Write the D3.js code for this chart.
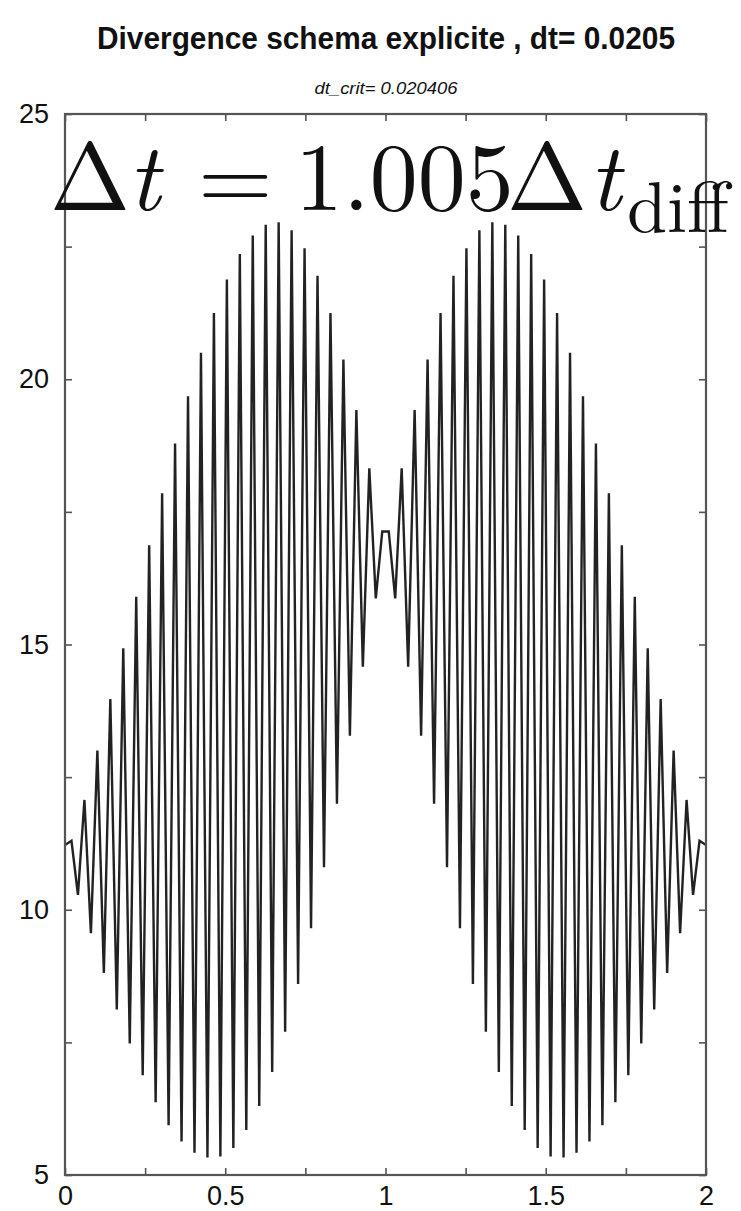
<!DOCTYPE html>
<html>
<head>
<meta charset="utf-8">
<script src="https://cdn.jsdelivr.net/npm/d3@7"></script>
<style>
body { margin: 0; background: #fff; }
text { fill: #111; }
</style>
</head>
<body>
<svg id="chart"></svg>
<script>
// tick values and labels
const xMajor = [0, 0.5, 1, 1.5, 2];
const xMajorLabels = ["0", "0.5", "1", "1.5", "2"];
const xMinor = [0, 0.25, 0.5, 0.75, 1, 1.25, 1.5, 1.75, 2];
const yMajor = [5, 10, 15, 20, 25];
const yMinor = [5, 7.5, 10, 12.5, 15, 17.5, 20, 22.5, 25];

// solution u(x) on 100 grid points
const u = [
  11.22, 11.30, 10.28, 12.07, 9.56, 13.00, 8.81, 13.97, 8.12, 14.93,
  7.48, 15.90, 6.88, 16.87, 6.37, 17.85, 5.94, 18.79, 5.63, 19.68,
  5.42, 20.50, 5.33, 21.25, 5.35, 21.88, 5.51, 22.36, 5.85, 22.71,
  6.30, 22.91, 6.94, 22.96, 7.70, 22.81, 8.60, 22.47, 9.65, 21.95,
  10.80, 21.25, 12.00, 20.37, 13.28, 19.42, 14.58, 18.32, 15.87, 17.13,
  17.13, 15.87, 18.32, 14.58, 19.42, 13.28, 20.37, 12.00, 21.25, 10.80,
  21.95, 9.65, 22.47, 8.60, 22.81, 7.70, 22.96, 6.94, 22.91, 6.30,
  22.71, 5.85, 22.36, 5.51, 21.88, 5.35, 21.25, 5.33, 20.50, 5.42,
  19.68, 5.63, 18.79, 5.94, 17.85, 6.37, 16.87, 6.88, 15.90, 7.48,
  14.93, 8.12, 13.97, 8.81, 13.00, 9.56, 12.07, 10.28, 11.30, 11.22
];
const xMin = 0, xMax = 2;

const W = 741, H = 1211;
const m = { left: 65, right: 706, top: 114, bottom: 1175 };

const svg = d3.select("#chart").attr("width", W).attr("height", H);

// soft edges like the scanned original
svg.append("defs").append("filter").attr("id", "soft")
  .append("feGaussianBlur").attr("stdDeviation", 0.6);

const x = d3.scaleLinear().domain([xMin, xMax]).range([m.left, m.right]);
const y = d3.scaleLinear().domain([5, 25]).range([m.bottom, m.top]);

const dx = (xMax - xMin) / (u.length - 1);
const pts = u.map((v, i) => [xMin + i * dx, v]);

// curve
svg.append("path")
  .datum(pts)
  .attr("fill", "none")
  .attr("stroke", "#222")
  .attr("stroke-width", 2.4)
  .attr("stroke-linejoin", "miter")
  .attr("filter", "url(#soft)")
  .attr("d", d3.line().x(d => x(d[0])).y(d => y(d[1])));

const labelFont = "'Liberation Sans', Arial, Helvetica, sans-serif";

// axes, ticks pointing inward
const fmtX = v => { const k = xMajor.indexOf(v); return k < 0 ? "" : xMajorLabels[k]; };
const fmtY = v => yMajor.indexOf(v) < 0 ? "" : String(v);

const gb = svg.append("g").attr("transform", `translate(0,${m.bottom})`)
  .call(d3.axisBottom(x).tickValues(xMinor).tickSize(-7).tickPadding(11).tickFormat(fmtX));
const gt = svg.append("g").attr("transform", `translate(0,${m.top})`)
  .call(d3.axisTop(x).tickValues(xMinor).tickSize(-7).tickFormat(""));
const gl = svg.append("g").attr("transform", `translate(${m.left},0)`)
  .call(d3.axisLeft(y).tickValues(yMinor).tickSize(-7).tickPadding(16).tickFormat(fmtY));
const gr = svg.append("g").attr("transform", `translate(${m.right},0)`)
  .call(d3.axisRight(y).tickValues(yMinor).tickSize(-7).tickFormat(""));

[gb, gt, gl, gr].forEach(g => {
  g.select(".domain").remove();
  g.selectAll(".tick line").attr("stroke", "#555").attr("stroke-width", 1.6);
  g.selectAll("text").attr("font-family", labelFont).attr("font-size", 27).attr("fill", "#111");
});

svg.append("rect")
  .attr("x", m.left).attr("y", m.top)
  .attr("width", m.right - m.left).attr("height", m.bottom - m.top)
  .attr("fill", "none").attr("stroke", "#555").attr("stroke-width", 2.2);

// title and subtitle
svg.append("text")
  .attr("x", 386).attr("y", 49)
  .attr("text-anchor", "middle")
  .attr("font-family", labelFont).attr("font-weight", "bold").attr("font-size", 32)
  .attr("textLength", 578).attr("lengthAdjust", "spacingAndGlyphs")
  .text("Divergence schema explicite , dt= 0.0205");

svg.append("text")
  .attr("x", 386).attr("y", 94)
  .attr("text-anchor", "middle")
  .attr("font-family", labelFont).attr("font-style", "italic").attr("font-size", 17)
  .attr("textLength", 143).attr("lengthAdjust", "spacingAndGlyphs")
  .text("dt_crit= 0.020406");

// math annotation  Δt = 1.005 Δt_diff
const mathFont = "'Latin Modern Roman', 'CMU Serif', 'Liberation Serif', 'DejaVu Serif', serif";
const mt = svg.append("text")
  .attr("y", 210)
  .attr("font-family", mathFont).attr("font-size", 96);
mt.append("tspan").attr("x", 50).text("\u0394");
mt.append("tspan").attr("x", 128).attr("font-style", "italic").text("t");
mt.append("tspan").attr("x", 198).text("=");
mt.append("tspan").attr("x", 295).text("1.005");
mt.append("tspan").attr("x", 507).text("\u0394");
mt.append("tspan").attr("x", 589).attr("font-style", "italic").text("t");
mt.append("tspan").attr("x", 627).attr("y", 232).attr("font-size", 72).text("diff");
</script>
</body>
</html>
